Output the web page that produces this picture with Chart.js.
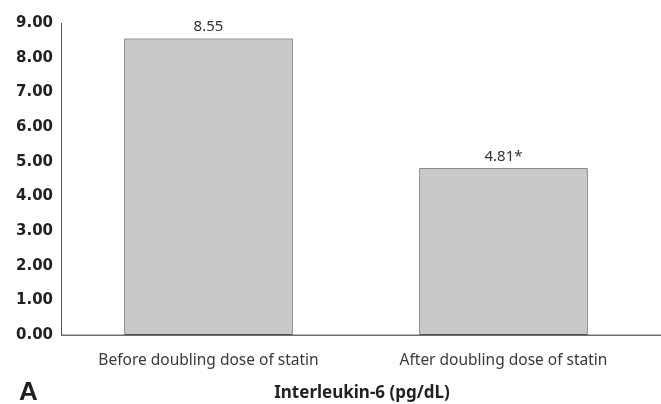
<!DOCTYPE html>
<html>
<head>
<meta charset="utf-8">
<script src="https://cdn.jsdelivr.net/npm/chart.js@4/dist/chart.umd.min.js"></script>
<style>
html,body{margin:0;padding:0;background:#fff;}
#wrap{width:661px;height:404px;position:relative;}
</style>
</head>
<body>
<div id="wrap"><canvas id="c" width="661" height="404"></canvas></div>
<script>
const categories = ["Before doubling dose of statin", "After doubling dose of statin"];
const values = [8.55, 4.81];
const valueLabels = ["8.55", "4.81*"];
const yTicks = [0, 1, 2, 3, 4, 5, 6, 7, 8, 9];
const chartTitle = "Interleukin-6 (pg/dL)";
const panelLabel = "A";

const decor = {
  id: 'decor',
  afterDatasetsDraw(chart) {
    const ctx = chart.ctx;
    const ca = chart.chartArea;
    const meta = chart.getDatasetMeta(0);
    ctx.save();
    // baseline extending to the right edge
    ctx.strokeStyle = '#6e6e6e';
    ctx.lineWidth = 1.5;
    ctx.beginPath();
    ctx.moveTo(ca.left, ca.bottom + 0.25);
    ctx.lineTo(chart.width, ca.bottom + 0.25);
    ctx.stroke();
    // value labels
    ctx.fillStyle = '#333333';
    ctx.font = '15px "Noto Sans"';
    ctx.textAlign = 'center';
    ctx.textBaseline = 'middle';
    meta.data.forEach((bar, i) => {
      ctx.fillText(valueLabels[i], bar.x, bar.y - 12);
    });
    // title and panel label
    ctx.fillStyle = '#231f20';
    ctx.font = 'bold 17px "Noto Sans"';
    ctx.fillText(chartTitle, 362, 393);
    ctx.font = 'bold 26px "Liberation Sans"';
    ctx.textAlign = 'left';
    ctx.fillText(panelLabel, 19, 393);
    ctx.restore();
  }
};

new Chart(document.getElementById('c'), {
  type: 'bar',
  data: {
    labels: categories,
    datasets: [{
      data: values,
      backgroundColor: '#c8c9cb',
      borderColor: '#333333',
      borderWidth: 1,
      borderSkipped: false,
      categoryPercentage: 1,
      barPercentage: 0.571
    }]
  },
  options: {
    responsive: false,
    animation: false,
    layout: { padding: { left: 0, right: 10, top: 23, bottom: 0 } },
    plugins: { legend: { display: false }, tooltip: { enabled: false }, title: { display: false } },
    scales: {
      y: {
        min: 0, max: 9,
        afterBuildTicks(scale) { scale.ticks = yTicks.map(v => ({ value: v })); },
        afterFit(scale) { scale.width = 61; },
        grid: { display: false, drawTicks: false },
        border: { display: true, color: '#555555', width: 1 },
        ticks: {
          padding: 8,
          color: '#231f20',
          font: { family: 'DejaVu Sans', weight: 'bold', size: 15 },
          callback: v => Number(v).toFixed(2)
        }
      },
      x: {
        afterFit(scale) { scale.height = 69; },
        grid: { display: false, drawTicks: false },
        border: { display: false },
        ticks: {
          padding: 16,
          color: '#3a3a3a',
          font: { family: 'Noto Sans', size: 15.5 }
        }
      }
    }
  },
  plugins: [decor]
});
</script>
</body>
</html>
